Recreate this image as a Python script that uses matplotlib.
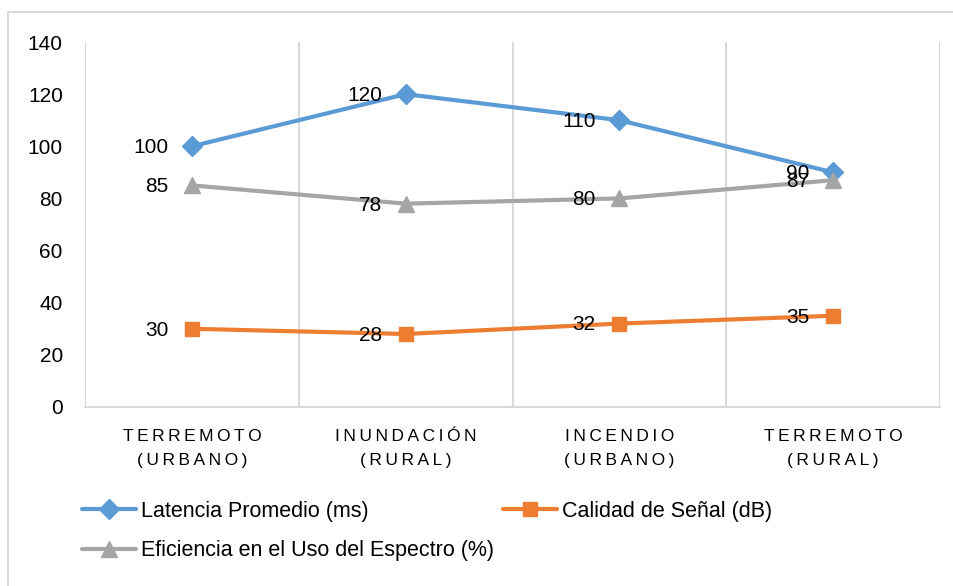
import numpy as np
import matplotlib
matplotlib.use('Agg')
import matplotlib.pyplot as plt
from matplotlib.patches import Rectangle

plt.rcParams['font.family'] = ['Liberation Sans', 'DejaVu Sans']

# datos del grafico
categorias = ['TERREMOTO\n(URBANO)', 'INUNDACIÓN\n(RURAL)', 'INCENDIO\n(URBANO)', 'TERREMOTO\n(RURAL)']
latencia = [100, 120, 110, 90]
calidad = [30, 28, 32, 35]
eficiencia = [85, 78, 80, 87]
series = ['Latencia Promedio (ms)', 'Calidad de Señal (dB)', 'Eficiencia en el Uso del Espectro (%)']
yticks = [0, 20, 40, 60, 80, 100, 120, 140]

W, H = 954, 586
fig = plt.figure(figsize=(W / 100, H / 100), dpi=100)
ax = fig.add_axes([85 / W, 1 - 407 / H, (940 - 85) / W, (407 - 42) / H])

# borde del grafico (se sale por la derecha y abajo)
fig.patches.append(Rectangle((8 / W, -20 / H), (980 - 8) / W, (H + 20 - 12) / H,
                             transform=fig.transFigure, fill=False,
                             edgecolor='#d9d9d9', linewidth=1.5))

x = np.arange(len(categorias))
estilos = [(latencia, '#5B9BD5', 'D', 10),
           (calidad, '#ED7D31', 's', 10),
           (eficiencia, '#A5A5A5', '^', 11)]
lineas = []
for (vals, color, mk, ms), nombre in zip(estilos, series):
    l, = ax.plot(x, vals, color=color, lw=3, marker=mk, markersize=ms,
                 label=nombre, zorder=3, solid_capstyle='round')
    lineas.append(l)
    for xi, v in zip(x, vals):
        ax.annotate(str(v), xy=(xi, v), xytext=(-17, -1), textcoords='offset points',
                    ha='right', va='center', fontsize=15, color='black', zorder=4)

ax.set_xlim(-0.5, 3.5)
ax.set_ylim(0, 140)
ax.set_yticks(yticks)
ax.tick_params(axis='y', length=0, pad=16, labelsize=15)

# etiquetas de categoria con espaciado entre letras
etiquetas = ['\n'.join('\u2009'.join(p) for p in c.split('\n')) for c in categorias]
ax.set_xticks(x)
ax.set_xticklabels(etiquetas, fontsize=12.5, linespacing=1.75)
ax.tick_params(axis='x', length=0, pad=16)

ax.set_xticks(np.arange(-0.5, 4, 1), minor=True)
ax.tick_params(axis='x', which='minor', length=0)
ax.grid(True, axis='x', which='minor', color='#d9d9d9', lw=1.5)
ax.grid(False, axis='x', which='major')
ax.set_axisbelow(True)

for s in ['top', 'right', 'left']:
    ax.spines[s].set_visible(False)
ax.spines['bottom'].set_color('#d9d9d9')
ax.spines['bottom'].set_linewidth(1.5)

orden = [lineas[0], lineas[2], lineas[1]]
fig.legend(orden, [l.get_label() for l in orden], ncol=2, loc='upper left',
           bbox_to_anchor=(82 / W, 1 - 501 / H), frameon=False, fontsize=15.5,
           handlelength=2.5, handletextpad=0.25, columnspacing=0.4,
           labelspacing=0.85, borderpad=0, borderaxespad=0)

plt.savefig('out.png', dpi=100)
